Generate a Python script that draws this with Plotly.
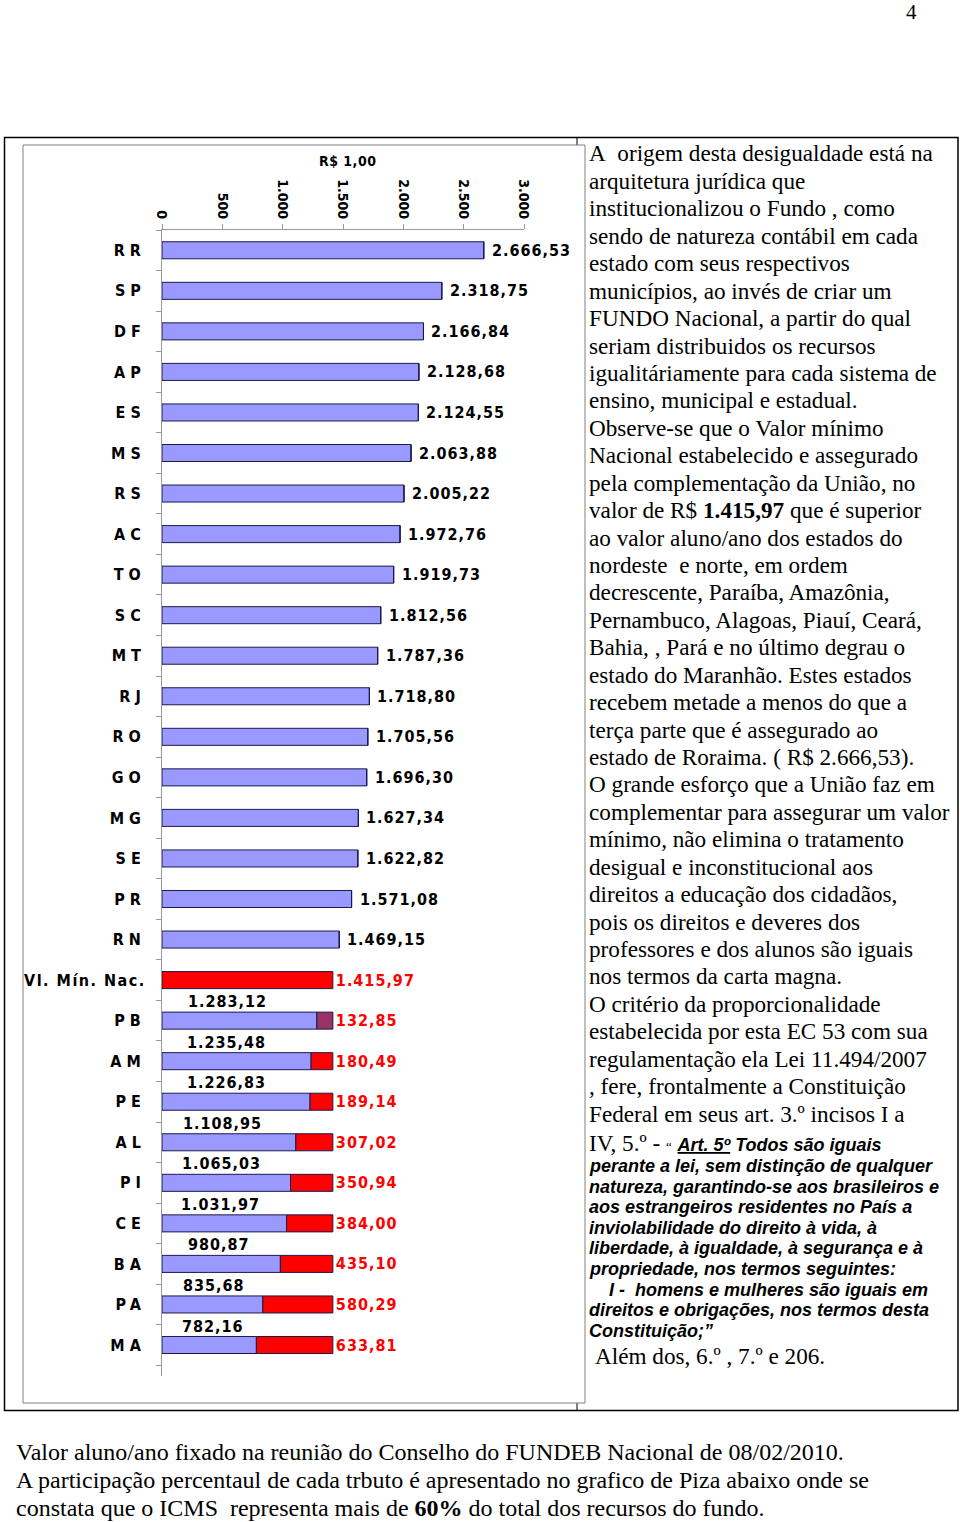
import plotly.graph_objects as go

# ---------------- data ----------------
estados = ["RR", "SP", "DF", "AP", "ES", "MS", "RS", "AC", "TO", "SC", "MT", "RJ",
           "RO", "GO", "MG", "SE", "PR", "RN", "Vl. Mín. Nac.", "PB", "AM", "PE",
           "AL", "PI", "CE", "BA", "PA", "MA"]
valor_aluno = [2666.53, 2318.75, 2166.84, 2128.68, 2124.55, 2063.88, 2005.22,
               1972.76, 1919.73, 1812.56, 1787.36, 1718.80, 1705.56, 1696.30,
               1627.34, 1622.82, 1571.08, 1469.15, None, 1283.12, 1235.48,
               1226.83, 1108.95, 1065.03, 1031.97, 980.87, 835.68, 782.16]
complemento = [None] * 18 + [1415.97, 132.85, 180.49, 189.14, 307.02, 350.94,
                             384.00, 435.10, 580.29, 633.81]
tick_vals = [0, 500, 1000, 1500, 2000, 2500, 3000]
tick_text = ["0", "500", "1.000", "1.500", "2.000", "2.500", "3.000"]

W, H = 960, 1522
NARROW = "Liberation Sans Narrow, Arial Narrow, DejaVu Sans Condensed, sans-serif"
SERIF = "Liberation Serif, Times New Roman, serif"
SANS = "Liberation Sans, Arial, sans-serif"
BLUE = "#9999FF"
RED = "#FF0000"
PURPLE = "#993366"
SERIF_SIZE = 23.2


def fmt(v):
    s = "{:,.2f}".format(v)
    return s.replace(",", "X").replace(".", ",").replace("X", ".")


def sp(t, ls=1):
    return '<span style="letter-spacing:%gpx">%s</span>' % (ls, t)


def px(x):
    return x / W


def py(y):
    return 1 - y / H


fig = go.Figure()

# blue bars (valor aluno/ano)
fig.add_trace(go.Bar(
    y=estados, x=[v if v is not None else 0 for v in valor_aluno],
    orientation="h", width=0.42,
    marker=dict(color=BLUE, line=dict(color="#1a1a4d", width=1)),
    hoverinfo="skip",
))

# red complement bars
bases = [v if v is not None else 0 for v in valor_aluno]
red_colors = []
red_text = []
for e, c in zip(estados, complemento):
    red_colors.append(PURPLE if e == "PB" else RED)
    red_text.append(sp(fmt(c)) if c is not None else "")
fig.add_trace(go.Bar(
    y=estados, x=[c if c is not None else 0 for c in complemento], base=bases,
    orientation="h", width=0.42,
    marker=dict(color=red_colors, line=dict(color="#1a1a4d", width=1)),
    text=red_text, textposition="outside", constraintext="none",
    cliponaxis=False,
    textfont=dict(family=NARROW, size=16, color=RED, weight="bold"),
    hoverinfo="skip",
))

annotations = []
for e, v, c in zip(estados, valor_aluno, complemento):
    if v is None:
        continue
    if c is None:
        # value right of the bar
        annotations.append(dict(
            x=v, y=e, xref="x", yref="y", text=sp(fmt(v)), showarrow=False,
            xanchor="left", yanchor="middle", xshift=6,
            font=dict(family=NARROW, size=16, color="black", weight="bold")))
    else:
        # value above the bar
        annotations.append(dict(
            x=v / 4, y=e, xref="x", yref="y", text=sp(fmt(v)), showarrow=False,
            xanchor="center", yanchor="middle", yshift=19, xshift=27,
            font=dict(family=NARROW, size=16, color="black", weight="bold")))

# axis unit title
annotations.append(dict(x=px(347), y=py(161), xref="paper", yref="paper",
                        text=sp("R$ 1,00", 0.5), showarrow=False,
                        xanchor="center", yanchor="middle",
                        font=dict(family=NARROW, size=14, color="black", weight="bold")))

# page number
annotations.append(dict(x=px(911), y=py(12), xref="paper", yref="paper",
                        text="4", showarrow=False, xanchor="center", yanchor="middle",
                        font=dict(family=SERIF, size=21, color="black")))

# right column text
serif_lines = [
    "A  origem desta desigualdade está na",
    "arquitetura jurídica que",
    "institucionalizou o Fundo , como",
    "sendo de natureza contábil em cada",
    "estado com seus respectivos",
    "municípios, ao invés de criar um",
    "FUNDO Nacional, a partir do qual",
    "seriam distribuidos os recursos",
    "igualitáriamente para cada sistema de",
    "ensino, municipal e estadual.",
    "Observe-se que o Valor mínimo",
    "Nacional estabelecido e assegurado",
    "pela complementação da União, no",
    "valor de R$ <b>1.415,97</b> que é superior",
    "ao valor aluno/ano dos estados do",
    "nordeste  e norte, em ordem",
    "decrescente, Paraíba, Amazônia,",
    "Pernambuco, Alagoas, Piauí, Ceará,",
    "Bahia, , Pará e no último degrau o",
    "estado do Maranhão. Estes estados",
    "recebem metade a menos do que a",
    "terça parte que é assegurado ao",
    "estado de Roraima. ( R$ 2.666,53).",
    "O grande esforço que a União faz em",
    "complementar para assegurar um valor",
    "mínimo, não elimina o tratamento",
    "desigual e inconstitucional aos",
    "direitos a educação dos cidadãos,",
    "pois os direitos e deveres dos",
    "professores e dos alunos são iguais",
    "nos termos da carta magna.",
    "O critério da proporcionalidade",
    "estabelecida por esta EC 53 com sua",
    "regulamentação ela Lei 11.494/2007",
    ", fere, frontalmente a Constituição",
    "Federal em seus art. 3.º incisos I a",
]
y0, dy = 153.5, 27.43
for i, t in enumerate(serif_lines):
    annotations.append(dict(x=px(587), y=py(y0 + i * dy), xref="paper", yref="paper",
                            text=t.replace("  ", "&nbsp; "), showarrow=False,
                            xanchor="left", yanchor="middle",
                            font=dict(family=SERIF, size=SERIF_SIZE, color="black")))

annotations.append(dict(
    x=px(587), y=py(1143), xref="paper", yref="paper", showarrow=False,
    xanchor="left", yanchor="middle",
    text=('IV, 5.º - <span style="font-size:13px">“</span> '
          '<span style="font-family:Liberation Sans, Arial, sans-serif;font-size:18px">'
          '<b><i><u>Art. 5º</u> Todos são iguais</i></b></span>'),
    font=dict(family=SERIF, size=SERIF_SIZE, color="black")))

art_lines = [
    "perante a lei, sem distinção de qualquer",
    "natureza, garantindo-se aos brasileiros e",
    "aos estrangeiros residentes no País a",
    "inviolabilidade do direito à vida, à",
    "liberdade, à igualdade, à segurança e à",
    "propriedade, nos termos seguintes:",
    "   I -  homens e mulheres são iguais em",
    "direitos e obrigações, nos termos desta",
    "Constituição;”",
]
for i, t in enumerate(art_lines):
    txt = t.replace("   ", "&nbsp;&nbsp;&nbsp;&nbsp;").replace("  ", "&nbsp; ")
    annotations.append(dict(x=px(587), y=py(1166 + i * 20.6), xref="paper", yref="paper",
                            text="<b><i>%s</i></b>" % txt, showarrow=False,
                            xanchor="left", yanchor="middle",
                            font=dict(family=SANS, size=18, color="black")))

annotations.append(dict(x=px(593), y=py(1356), xref="paper", yref="paper",
                        text="Além dos, 6.º , 7.º e 206.", showarrow=False,
                        xanchor="left", yanchor="middle",
                        font=dict(family=SERIF, size=SERIF_SIZE, color="black")))

# bottom text
bottom_lines = [
    "Valor aluno/ano fixado na reunião do Conselho do FUNDEB Nacional de 08/02/2010.",
    "A participação percentaul de cada trbuto é apresentado no grafico de Piza abaixo onde se",
    "constata que o ICMS  representa mais de <b>60%</b> do total dos recursos do fundo.",
]
for i, t in enumerate(bottom_lines):
    annotations.append(dict(x=px(14), y=py(1452 + i * 28), xref="paper", yref="paper",
                            text=t.replace("  ", "&nbsp; "), showarrow=False,
                            xanchor="left", yanchor="middle",
                            font=dict(family=SERIF, size=24, color="black")))

shapes = [
    # outer frame
    dict(type="rect", xref="paper", yref="paper", x0=px(4.5), x1=px(958),
         y0=py(1410.5), y1=py(137.5), line=dict(color="black", width=1.5),
         layer="below"),
    # column divider
    dict(type="line", xref="paper", yref="paper", x0=px(577), x1=px(577),
         y0=py(1410.5), y1=py(137.5), line=dict(color="black", width=1),
         layer="below"),
    # chart box
    dict(type="rect", xref="paper", yref="paper", x0=px(23), x1=px(585),
         y0=py(1403), y1=py(145), line=dict(color="#808080", width=1),
         fillcolor="white", layer="below"),
]

fig.update_layout(
    width=W, height=H, margin=dict(l=0, r=0, t=0, b=0, autoexpand=False),
    paper_bgcolor="white", plot_bgcolor="rgba(0,0,0,0)",
    barmode="overlay", showlegend=False,
    annotations=annotations, shapes=shapes,
    xaxis=dict(domain=[px(162), px(524)], range=[0, 3000], side="top",
               automargin=False,
               tickvals=tick_vals, ticktext=tick_text,
               tickangle=90, ticks="outside", ticklen=5, tickcolor="#999999",
               showline=True, linecolor="#999999", showgrid=False, zeroline=False,
               tickfont=dict(family=NARROW, size=14, color="black", weight="bold")),
    yaxis=dict(domain=[py(1375.5), py(230)], type="category",
               automargin=False,
               categoryorder="array", categoryarray=estados, autorange="reversed",
               tickson="boundaries", ticks="outside", ticklen=5, tickcolor="#999999",
               showline=True, linecolor="#999999", showgrid=False, zeroline=False,
               ticklabelstandoff=12,
               tickvals=estados,
               ticktext=[sp(e, 5 if len(e) == 2 else 1.5) for e in estados],
               tickfont=dict(family=NARROW, size=16, color="black", weight="bold")),
)

fig.write_html("out.html",
               config={"displayModeBar": False},
               post_script="document.body.style.margin='0px';"
                           "document.body.style.padding='0px';")
